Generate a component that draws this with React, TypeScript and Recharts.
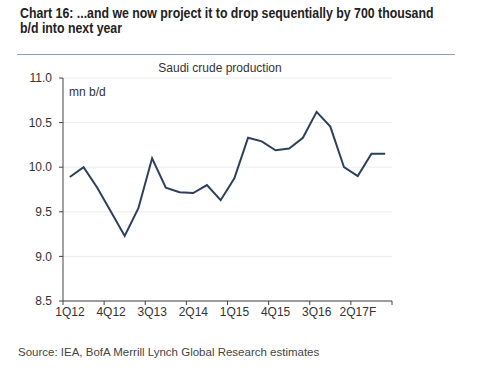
import { LineChart, Line, XAxis, YAxis, CartesianGrid } from "recharts";

const quarters = [
  "1Q12", "2Q12", "3Q12", "4Q12",
  "1Q13", "2Q13", "3Q13", "4Q13",
  "1Q14", "2Q14", "3Q14", "4Q14",
  "1Q15", "2Q15", "3Q15", "4Q15",
  "1Q16", "2Q16", "3Q16", "4Q16",
  "1Q17F", "2Q17F", "3Q17F", "4Q17F",
];

// mn b/d
const production = [
  9.89, 10.0, 9.77, 9.5,
  9.23, 9.54, 10.1, 9.77,
  9.72, 9.71, 9.8, 9.63,
  9.875, 10.33, 10.29, 10.19,
  10.21, 10.33, 10.62, 10.455,
  10.0, 9.9, 10.15, 10.15,
];

const yTicks = [8.5, 9, 9.5, 10, 10.5, 11];
// tick marks sit on the quarter boundaries, every third quarter labelled
const xTicks = [0, 3, 6, 9, 12, 15, 18, 21, 24];

const data = quarters.map((q, i) => ({ x: i + 0.5, quarter: q, value: production[i] }));

const font = "'Liberation Sans', Arial, sans-serif";

function QuarterTick(props: any) {
  const { x, y, payload } = props;
  const label = quarters[payload.value];
  if (!label) return null;
  return (
    <text x={x + 7} y={y} dy="0.71em" textAnchor="middle" fontSize={12} fill="#333" fontFamily={font}>
      {label}
    </text>
  );
}

export default function App() {
  return (
    <div
      style={{
        position: "absolute",
        left: 0,
        top: 0,
        width: 487,
        height: 378,
        background: "#fff",
        fontFamily: font,
        color: "#222",
      }}
    >
      {/* no narrow font installed, so squeeze the bold header instead */}
      <div
        style={{
          position: "absolute",
          left: 20,
          top: 6,
          fontSize: 14,
          lineHeight: "15px",
          fontWeight: "bold",
          whiteSpace: "nowrap",
          transform: "scaleX(0.88)",
          transformOrigin: "left top",
        }}
      >
        Chart 16: ...and we now project it to drop sequentially by 700 thousand
        <br />
        b/d into next year
      </div>
      <div style={{ position: "absolute", left: 17, top: 54, width: 438, height: 1, background: "#8da3bd" }} />

      <LineChart
        width={487}
        height={378}
        data={data}
        margin={{ top: 78, right: 95, bottom: 47, left: 23 }}
      >
        <CartesianGrid vertical={false} stroke="#ececec" />
        <XAxis
          type="number"
          dataKey="x"
          domain={[0, 24]}
          ticks={xTicks}
          interval={0}
          height={30}
          tickSize={4}
          tick={QuarterTick}
          axisLine={{ stroke: "#444" }}
          tickLine={{ stroke: "#444" }}
        />
        <YAxis
          domain={[8.5, 11]}
          ticks={yTicks}
          width={40}
          tickSize={4}
          tickMargin={7}
          tickFormatter={(v: number) => v.toFixed(1)}
          tick={{ fontSize: 12, fill: "#333", fontFamily: font }}
          axisLine={{ stroke: "#444" }}
          tickLine={{ stroke: "#444" }}
        />
        <Line
          type="linear"
          dataKey="value"
          stroke="#2d3f5c"
          strokeWidth={2}
          dot={false}
          isAnimationActive={false}
        />
      </LineChart>

      <div
        style={{
          position: "absolute",
          left: 220,
          top: 62,
          transform: "translateX(-50%)",
          fontSize: 12,
          lineHeight: "12px",
          color: "#333",
          whiteSpace: "nowrap",
        }}
      >
        Saudi crude production
      </div>
      <div style={{ position: "absolute", left: 69, top: 86, fontSize: 12, lineHeight: "12px", color: "#333" }}>
        mn b/d
      </div>

      <div
        style={{
          position: "absolute",
          left: 18,
          top: 346,
          fontSize: 11.5,
          lineHeight: "12px",
          color: "#444",
          whiteSpace: "nowrap",
        }}
      >
        Source: IEA, BofA Merrill Lynch Global Research estimates
      </div>
    </div>
  );
}
